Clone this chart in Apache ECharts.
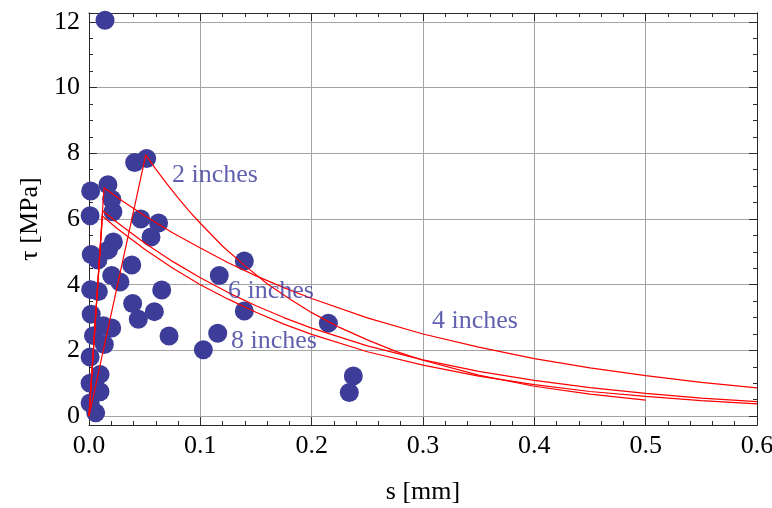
<!DOCTYPE html>
<html>
<head>
<meta charset="utf-8">
<script src="https://cdn.jsdelivr.net/npm/echarts@6/dist/echarts.min.js"></script>
<style>
html,body{margin:0;padding:0;background:#fff;}
#chart{width:772px;height:508px;}
</style>
</head>
<body>
<div id="chart"></div>
<script>
// ---- data ----
const xTickValues = [0, 0.1, 0.2, 0.3, 0.4, 0.5, 0.6];
const xTickLabels = ['0.0', '0.1', '0.2', '0.3', '0.4', '0.5', '0.6'];
const yTickValues = [0, 2, 4, 6, 8, 10, 12];
const yTickLabels = ['0', '2', '4', '6', '8', '10', '12'];
const yMinorValues = [0.5, 1, 1.5, 2.5, 3, 3.5, 4.5, 5, 5.5, 6.5, 7, 7.5, 8.5, 9, 9.5, 10.5, 11, 11.5];

const measured = [
  [0.0144, 12.05], [0.0410, 7.72], [0.0518, 7.84], [0.0170, 7.04], [0.0015, 6.85],
  [0.0204, 6.60], [0.0215, 6.22], [0.0010, 6.10], [0.0465, 6.00], [0.0625, 5.88],
  [0.0557, 5.45], [0.0219, 5.30], [0.0174, 5.06], [0.0020, 4.92], [0.0080, 4.75],
  [0.0384, 4.60], [0.0204, 4.28], [0.0278, 4.08], [0.0015, 3.85], [0.0084, 3.79],
  [0.0653, 3.84], [0.0392, 3.43], [0.0443, 2.95], [0.0587, 3.18], [0.0719, 2.44],
  [0.0204, 2.68], [0.0129, 2.75], [0.0138, 2.18], [0.0040, 2.45], [0.1027, 2.02],
  [0.1156, 2.52], [0.1170, 4.28], [0.1395, 4.72], [0.1395, 3.20], [0.0099, 1.27],
  [0.0099, 0.74], [0.0060, 0.10], [0.2150, 2.83], [0.2374, 1.22], [0.2338, 0.72],
  [0.0010, 1.80], [0.0010, 1.00], [0.0010, 0.40], [0.0020, 3.10]
];

const curve2in = [
  [0, 0], [0.051, 7.95], [0.06, 7.52], [0.07, 7.07], [0.08, 6.64], [0.09, 6.24],
  [0.1, 5.87], [0.12, 5.17], [0.14, 4.58], [0.16, 4.03], [0.18, 3.57], [0.2, 3.15],
  [0.225, 2.7], [0.25, 2.32], [0.275, 1.98], [0.3, 1.7], [0.35, 1.25], [0.4, 0.91],
  [0.45, 0.67], [0.5, 0.49]
];
const curve4in = [
  [0, 0], [0.0135, 6.95], [0.03, 6.55], [0.05, 6.1], [0.075, 5.58], [0.1, 5.12],
  [0.125, 4.67], [0.15, 4.27], [0.175, 3.91], [0.2, 3.58], [0.25, 2.99], [0.3, 2.5],
  [0.35, 2.1], [0.4, 1.75], [0.45, 1.47], [0.5, 1.23], [0.55, 1.03], [0.6, 0.86]
];
const curve6in = [
  [0, 0], [0.0123, 6.25], [0.025, 5.9], [0.05, 5.27], [0.075, 4.71], [0.1, 4.21],
  [0.125, 3.76], [0.15, 3.36], [0.175, 3.0], [0.2, 2.68], [0.25, 2.14], [0.3, 1.71],
  [0.35, 1.36], [0.4, 1.09], [0.45, 0.87], [0.5, 0.69], [0.55, 0.55], [0.6, 0.44]
];
const curve8in = [
  [0, 0], [0.012, 6.09], [0.025, 5.72], [0.05, 5.08], [0.075, 4.51], [0.1, 4.0],
  [0.125, 3.56], [0.15, 3.16], [0.175, 2.8], [0.2, 2.49], [0.25, 1.96], [0.3, 1.55],
  [0.35, 1.22], [0.4, 0.96], [0.45, 0.75], [0.5, 0.6], [0.55, 0.47], [0.6, 0.37]
];

const curveLabels = [
  {name: '2 inches', value: [0.0746, 7.34]},
  {name: '6 inches', value: [0.1249, 3.81]},
  {name: '8 inches', value: [0.1275, 2.28]},
  {name: '4 inches', value: [0.3081, 2.89]}
];

// ---- styles ----
const FONT = '"Liberation Serif", "Times New Roman", serif';
const AXIS_COLOR = '#2a2a2a';
const GRID_COLOR = '#a3a3a3';
const DOT_COLOR = '#3d3d99';
const LABEL_COLOR = '#38389a';

const chart = echarts.init(document.getElementById('chart'), null, {renderer: 'canvas'});

const Y_MIN = -0.27, Y_MAX = 12.27;

function yAxisBase(position, values, len, labels, split) {
  return {
    type: 'value', position: position, min: Y_MIN, max: Y_MAX,
    axisLine: {show: true, lineStyle: {color: AXIS_COLOR, width: 1}},
    axisTick: {show: true, inside: true, length: len, customValues: values,
               lineStyle: {color: AXIS_COLOR, width: 1}},
    axisLabel: labels ? {
      show: true, customValues: yTickValues, margin: 9,
      formatter: v => yTickLabels[yTickValues.indexOf(Math.round(v))],
      fontFamily: FONT, fontSize: 26, color: '#000'
    } : {show: false},
    splitLine: {show: !!split, lineStyle: {color: GRID_COLOR, width: 1}},
    minorTick: {show: false}
  };
}

const option = {
  animation: false,
  backgroundColor: '#fff',
  grid: {left: 89, right: 15, top: 13, bottom: 83, show: false, containLabel: false,
         outerBoundsMode: 'none'},
  xAxis: [
    {
      type: 'value', position: 'bottom', min: 0, max: 0.6, interval: 0.1,
      axisLine: {show: true, onZero: false, lineStyle: {color: AXIS_COLOR, width: 1}},
      axisTick: {show: true, inside: true, length: 8, lineStyle: {color: AXIS_COLOR}},
      minorTick: {show: true, splitNumber: 5, length: 4, lineStyle: {color: AXIS_COLOR}},
      axisLabel: {
        show: true, margin: 8, fontFamily: FONT, fontSize: 26, color: '#000',
        formatter: v => xTickLabels[Math.round(v * 10)]
      },
      splitLine: {show: true, lineStyle: {color: GRID_COLOR, width: 1}},
      name: 's [mm]', nameLocation: 'middle', nameGap: 54,
      nameTextStyle: {fontFamily: FONT, fontSize: 26, color: '#000'}
    },
    {
      type: 'value', position: 'top', min: 0, max: 0.6, interval: 0.1,
      axisLine: {show: true, onZero: false, lineStyle: {color: AXIS_COLOR, width: 1}},
      axisTick: {show: true, inside: true, length: 8, lineStyle: {color: AXIS_COLOR}},
      minorTick: {show: true, splitNumber: 5, length: 4, lineStyle: {color: AXIS_COLOR}},
      axisLabel: {show: false},
      splitLine: {show: false}
    }
  ],
  yAxis: [
    Object.assign(yAxisBase('left', yTickValues, 8, true, true), {
      name: 'τ [MPa]', nameLocation: 'middle', nameGap: 46, nameRotate: 90,
      nameTextStyle: {fontFamily: FONT, fontSize: 26, color: '#000'}
    }),
    yAxisBase('left', yMinorValues, 4, false, false),
    yAxisBase('right', yTickValues, 8, false, false),
    yAxisBase('right', yMinorValues, 4, false, false)
  ],
  series: [
    {
      type: 'scatter', xAxisIndex: 0, yAxisIndex: 0, data: measured,
      symbol: 'circle', symbolSize: 19, z: 2,
      itemStyle: {color: DOT_COLOR, opacity: 1}, silent: true
    },
    ...[curve2in, curve4in, curve6in, curve8in].map(d => ({
      type: 'line', xAxisIndex: 0, yAxisIndex: 0, data: d, showSymbol: false,
      symbol: 'none', smooth: false, z: 3, silent: true,
      lineStyle: {color: '#ff0000', width: 1.2}
    })),
    {
      type: 'scatter', xAxisIndex: 0, yAxisIndex: 0, data: curveLabels,
      symbolSize: 0, z: 4, silent: true,
      label: {
        show: true, position: 'right', distance: 0, formatter: p => p.name,
        fontFamily: FONT, fontSize: 26, color: LABEL_COLOR
      }
    }
  ]
};

chart.setOption(option);
</script>
</body>
</html>
